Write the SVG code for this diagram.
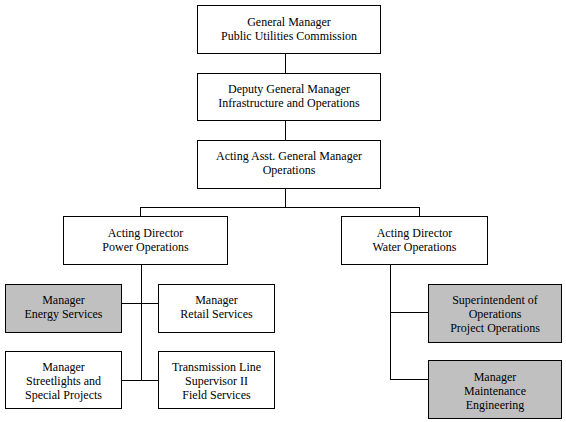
<svg xmlns="http://www.w3.org/2000/svg" width="566" height="422" viewBox="0 0 566 422">
<style>
.box{fill:#ffffff;stroke:#000000;stroke-width:1}
.gray{fill:#c0c0c0;stroke:#000000;stroke-width:1}
.conn{fill:none;stroke:#000000;stroke-width:1}
text{font-family:"Liberation Serif","Times New Roman",serif;font-size:12px;fill:#000000;text-anchor:middle}
</style>
<rect width="566" height="422" fill="#ffffff"/>
<g id="connectors">
<path class="conn" d="M285.5,53 V73 M285.5,120 V140 M285.5,188 V207.5 M140,207.5 H419.5 M140.5,207 V216 M419.5,207 V216"/>
<path class="conn" d="M141.5,264 V380 M121,303.5 H158 M121,380.5 H158"/>
<path class="conn" d="M390.5,264 V380 M390,312.5 H428 M390,379.5 H428"/>
</g>
<g id="gm">
<rect class="box" x="197.5" y="5.5" width="183" height="48"/>
<text x="289" y="26">General Manager</text>
<text x="289" y="40">Public Utilities Commission</text>
</g>
<g id="dgm">
<rect class="box" x="197.5" y="73.5" width="183" height="47"/>
<text x="289" y="93">Deputy General Manager</text>
<text x="289" y="107">Infrastructure and Operations</text>
</g>
<g id="agm">
<rect class="box" x="197.5" y="140.5" width="183" height="48"/>
<text x="289" y="160">Acting Asst. General Manager</text>
<text x="289" y="174">Operations</text>
</g>
<g id="power">
<rect class="box" x="63.5" y="216.5" width="164" height="48"/>
<text x="145.5" y="237">Acting Director</text>
<text x="145.5" y="251">Power Operations</text>
</g>
<g id="water">
<rect class="box" x="341.5" y="216.5" width="146" height="48"/>
<text x="414.5" y="237">Acting Director</text>
<text x="414.5" y="251">Water Operations</text>
</g>
<g id="energy">
<rect class="gray" x="5.5" y="284.5" width="116" height="48"/>
<text x="63.5" y="304">Manager</text>
<text x="63.5" y="318">Energy Services</text>
</g>
<g id="retail">
<rect class="box" x="158.5" y="284.5" width="116" height="48"/>
<text x="216.5" y="304">Manager</text>
<text x="216.5" y="318">Retail Services</text>
</g>
<g id="streetlights">
<rect class="box" x="5.5" y="351.5" width="116" height="57"/>
<text x="63.5" y="371">Manager</text>
<text x="63.5" y="385">Streetlights and</text>
<text x="63.5" y="399">Special Projects</text>
</g>
<g id="transmission">
<rect class="box" x="158.5" y="351.5" width="116" height="57"/>
<text x="216.5" y="371">Transmission Line</text>
<text x="216.5" y="385">Supervisor II</text>
<text x="216.5" y="399">Field Services</text>
</g>
<g id="superintendent">
<rect class="gray" x="428.5" y="284.5" width="133" height="58"/>
<text x="495" y="304">Superintendent of</text>
<text x="495" y="318">Operations</text>
<text x="495" y="332">Project Operations</text>
</g>
<g id="maintenance">
<rect class="gray" x="428.5" y="360.5" width="133" height="58"/>
<text x="495" y="381">Manager</text>
<text x="495" y="395">Maintenance</text>
<text x="495" y="409">Engineering</text>
</g>
</svg>
